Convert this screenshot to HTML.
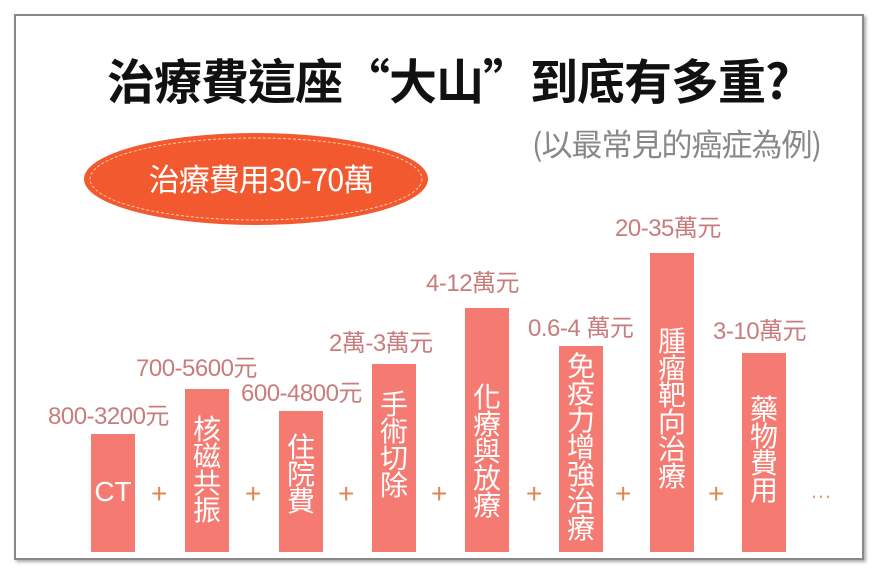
<!DOCTYPE html>
<html><head><meta charset="utf-8"><style>
body{margin:0;width:876px;height:576px;background:#fff;position:relative;overflow:hidden;font-family:"Liberation Sans","Noto Sans CJK TC",sans-serif}
.frame{position:absolute;left:14px;top:14px;width:846px;height:542px;border:2px solid #888;box-shadow:2px 2px 3px #aaa;background:#fff}
.a{position:absolute;white-space:nowrap}
.bar{position:absolute;width:44px;background:#f47a72;bottom:24px;color:#fff;font-size:28px;line-height:27px;text-align:center;font-family:"Noto Sans CJK TC",sans-serif}
.v{position:absolute;color:#c87d7d;font-size:24px;white-space:nowrap;font-family:"Liberation Sans","Noto Sans CJK TC",sans-serif;letter-spacing:-0.5px}
.p{position:absolute;color:#e0884e;font-size:28px;top:478px}
</style></head><body>
<div class="frame"></div>
<div class="a" style="left:107px;top:43px;font-size:48px;font-weight:bold;color:#111;font-family:'Noto Sans CJK TC',sans-serif;letter-spacing:-1px">治療費這座“大山”到底有多重?</div>
<div class="a" style="left:532px;top:120px;font-size:31px;color:#888;font-family:'Noto Sans CJK TC',sans-serif;letter-spacing:-1px">(以最常見的癌症為例)</div>
<svg class="a" style="left:0;top:0" width="876" height="576">
<ellipse cx="256" cy="179" rx="172" ry="46" fill="#f2592f"/>
<ellipse cx="256" cy="179" rx="166" ry="41" fill="none" stroke="#ffc9b0" stroke-width="1" stroke-dasharray="3 2"/>
<text x="261" y="191" text-anchor="middle" fill="#fff" font-size="31" font-family="Noto Sans CJK TC,sans-serif" letter-spacing="-1">治療費用30-70萬</text>
</svg>
<div class="bar" style="left:91px;top:434px;padding-top:44px;box-sizing:border-box;font-family:'Liberation Sans',sans-serif;font-size:28px">CT</div>
<div class="bar" style="left:185px;top:389px;padding-top:26px;box-sizing:border-box">核<br>磁<br>共<br>振</div>
<div class="bar" style="left:279px;top:411px;padding-top:22px;box-sizing:border-box">住<br>院<br>費</div>
<div class="bar" style="left:372px;top:364px;padding-top:26px;box-sizing:border-box">手<br>術<br>切<br>除</div>
<div class="bar" style="left:465px;top:308px;padding-top:75px;box-sizing:border-box">化<br>療<br>與<br>放<br>療</div>
<div class="bar" style="left:559px;top:346px;padding-top:6px;box-sizing:border-box">免<br>疫<br>力<br>增<br>強<br>治<br>療</div>
<div class="bar" style="left:650px;top:253px;padding-top:74px;box-sizing:border-box">腫<br>瘤<br>靶<br>向<br>治<br>療</div>
<div class="bar" style="left:742px;top:353px;padding-top:42px;box-sizing:border-box">藥<br>物<br>費<br>用</div>
<div class="v" style="left:48px;top:396px">800-3200元</div>
<div class="v" style="left:136px;top:348px">700-5600元</div>
<div class="v" style="left:241px;top:373px">600-4800元</div>
<div class="v" style="left:329px;top:323px">2萬-3萬元</div>
<div class="v" style="left:426px;top:263px">4-12萬元</div>
<div class="v" style="left:528px;top:308px">0.6-4 萬元</div>
<div class="v" style="left:615px;top:208px">20-35萬元</div>
<div class="v" style="left:713px;top:311px">3-10萬元</div>
<div class="p" style="left:151px">+</div>
<div class="p" style="left:245px">+</div>
<div class="p" style="left:338px">+</div>
<div class="p" style="left:431px">+</div>
<div class="p" style="left:526px">+</div>
<div class="p" style="left:615px">+</div>
<div class="p" style="left:708px">+</div>
<div class="p" style="left:810px;color:#e0a080;font-size:22px;top:478px">…</div>
</body></html>
